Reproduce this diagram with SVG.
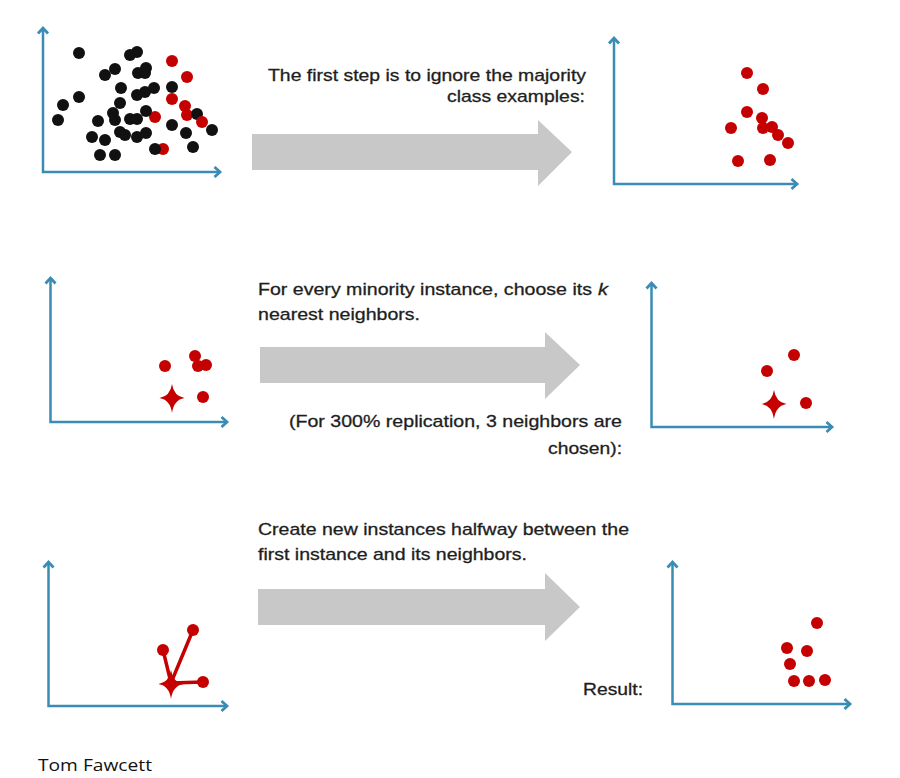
<svg xmlns="http://www.w3.org/2000/svg" width="900" height="778" viewBox="0 0 900 778">
<style>
.ax{fill:none;stroke:#3a8cb4;stroke-width:2.5;marker-start:url(#ah);marker-end:url(#ah)}
.b circle{fill:#111}
.r circle,circle.r{fill:#c40000}
.arr{fill:#c8c8c8}
.t{font-family:"Liberation Sans",Arial,sans-serif;font-size:17px;fill:#1e1e1e;stroke:#1e1e1e;stroke-width:0.3}
.lk{fill:none;stroke:#c40000;stroke-width:3.5;stroke-linecap:round}
</style>
<defs>
<marker id="ah" markerWidth="14" markerHeight="14" refX="7" refY="7" orient="auto-start-reverse" markerUnits="userSpaceOnUse">
<path d="M1.5,2 L7,7 L1.5,12" fill="none" stroke="#3a8cb4" stroke-width="2.8"/>
</marker>
<g id="star">
<path d="M0,-14 Q1.8,-1.8 12.5,0 Q1.8,1.8 0,15 Q-1.8,1.8 -12.5,0 Q-1.8,-1.8 0,-14Z" fill="#c40000"/>
<circle r="5.5" fill="#c40000"/>
</g>
</defs>
<rect width="900" height="778" fill="#fff"/>

<g id="panel1">
<path class="ax" d="M43,28 L43,172 L220,172"/>
<g class="r">
<circle cx="172" cy="61" r="6"/><circle cx="187" cy="77" r="6"/><circle cx="172" cy="99" r="6"/>
<circle cx="185" cy="106" r="6"/><circle cx="187" cy="115" r="6"/><circle cx="155" cy="117" r="6"/>
<circle cx="163" cy="149" r="6"/>
</g>
<g class="b">
<circle cx="79" cy="53" r="6"/><circle cx="130" cy="55" r="6"/><circle cx="137" cy="52" r="6"/>
<circle cx="105" cy="75" r="6"/><circle cx="115" cy="69" r="6"/><circle cx="138" cy="73" r="6"/>
<circle cx="146" cy="68" r="6"/><circle cx="145" cy="73" r="6"/><circle cx="121" cy="88" r="6"/>
<circle cx="79" cy="97" r="6"/><circle cx="63" cy="105" r="6"/><circle cx="58" cy="120" r="6"/>
<circle cx="137" cy="95" r="6"/><circle cx="145" cy="92" r="6"/><circle cx="154" cy="88" r="6"/>
<circle cx="172" cy="87" r="6"/><circle cx="120" cy="103" r="6"/><circle cx="113" cy="113" r="6"/>
<circle cx="115" cy="120" r="6"/><circle cx="130" cy="119" r="6"/><circle cx="137" cy="119" r="6"/>
<circle cx="146" cy="111" r="6"/><circle cx="98" cy="121" r="6"/><circle cx="120" cy="132" r="6"/>
<circle cx="125" cy="135" r="6"/><circle cx="92" cy="137" r="6"/><circle cx="105" cy="140" r="6"/>
<circle cx="137" cy="137" r="6"/><circle cx="146" cy="133" r="6"/><circle cx="172" cy="125" r="6"/>
<circle cx="186" cy="133" r="6"/><circle cx="197" cy="114" r="6"/><circle cx="212" cy="130" r="6"/>
<circle cx="193" cy="147" r="6"/><circle cx="155" cy="149" r="6"/><circle cx="100" cy="155" r="6"/>
<circle cx="115" cy="155" r="6"/>
</g>
<circle class="r" cx="202" cy="122" r="6"/>
</g>

<g id="panel2">
<path class="ax" d="M614,38 L614,184 L797,184"/>
<g class="r">
<circle cx="747" cy="73" r="6"/><circle cx="763" cy="89" r="6"/><circle cx="747" cy="112" r="6"/>
<circle cx="762" cy="118" r="6"/><circle cx="763" cy="128" r="6"/><circle cx="772" cy="127" r="6"/>
<circle cx="778" cy="135" r="6"/><circle cx="788" cy="143" r="6"/><circle cx="731" cy="128" r="6"/>
<circle cx="738" cy="161" r="6"/><circle cx="770" cy="160" r="6"/>
</g>
</g>

<g id="panel3">
<path class="ax" d="M50.5,278 L50.5,422 L227,422"/>
<g class="r">
<circle cx="165" cy="366" r="6"/><circle cx="195" cy="356" r="6"/><circle cx="198" cy="366" r="6"/>
<circle cx="206" cy="365" r="6"/><circle cx="203" cy="397" r="6"/>
</g>
<use href="#star" x="172" y="398"/>
</g>

<g id="panel4">
<path class="ax" d="M651.5,283 L651.5,427 L832,427"/>
<g class="r">
<circle cx="794" cy="355" r="6"/><circle cx="767" cy="371" r="6"/><circle cx="806" cy="403" r="6"/>
</g>
<use href="#star" x="774" y="404"/>
</g>

<g id="panel5">
<path class="ax" d="M48.5,562 L48.5,706 L227,706"/>
<path class="lk" d="M163,650 L171,683 L193,630 M171,683 L203,682"/>
<g class="r">
<circle cx="163" cy="650" r="6"/><circle cx="193" cy="630" r="6"/><circle cx="203" cy="682" r="6"/>
</g>
<use href="#star" x="171" y="684"/>
</g>

<g id="panel6">
<path class="ax" d="M672.5,562 L672.5,704 L850,704"/>
<g class="r">
<circle cx="817" cy="623" r="6"/><circle cx="787" cy="648" r="6"/><circle cx="807" cy="651" r="6"/>
<circle cx="790" cy="664" r="6"/><circle cx="794" cy="681" r="6"/><circle cx="809" cy="681" r="6"/>
<circle cx="825" cy="680" r="6"/>
</g>
</g>

<g id="connectors">
<polygon class="arr" points="252,134 538,134 538,120 572,152 538,186 538,170 252,170"/>
<polygon class="arr" points="260,347 545,347 545,332 580,365 545,399 545,383 260,383"/>
<polygon class="arr" points="258,589 545,589 545,573 580,607 545,641 545,625 258,625"/>
</g>

<g id="labels">
<text class="t" x="268" y="81" textLength="318" lengthAdjust="spacingAndGlyphs">The first step is to ignore the majority</text>
<text class="t" x="447" y="102" textLength="138" lengthAdjust="spacingAndGlyphs">class examples:</text>
<text class="t" x="258" y="295" textLength="334" lengthAdjust="spacingAndGlyphs">For every minority instance, choose its</text>
<text class="t" x="598" y="295" font-style="italic" textLength="10" lengthAdjust="spacingAndGlyphs">k</text>
<text class="t" x="258" y="320" textLength="162" lengthAdjust="spacingAndGlyphs">nearest neighbors.</text>
<text class="t" x="289" y="427" textLength="333" lengthAdjust="spacingAndGlyphs">(For 300% replication, 3 neighbors are</text>
<text class="t" x="548" y="454" textLength="74" lengthAdjust="spacingAndGlyphs">chosen):</text>
<text class="t" x="258" y="535" textLength="371" lengthAdjust="spacingAndGlyphs">Create new instances halfway between the</text>
<text class="t" x="258" y="560" textLength="269" lengthAdjust="spacingAndGlyphs">first instance and its neighbors.</text>
<text class="t" x="583" y="695" textLength="60" lengthAdjust="spacingAndGlyphs">Result:</text>
<text x="38" y="771" font-family="'Open Sans','Noto Sans',sans-serif" font-size="17" fill="#111" textLength="114" lengthAdjust="spacingAndGlyphs">Tom Fawcett</text>
</g>
</svg>
